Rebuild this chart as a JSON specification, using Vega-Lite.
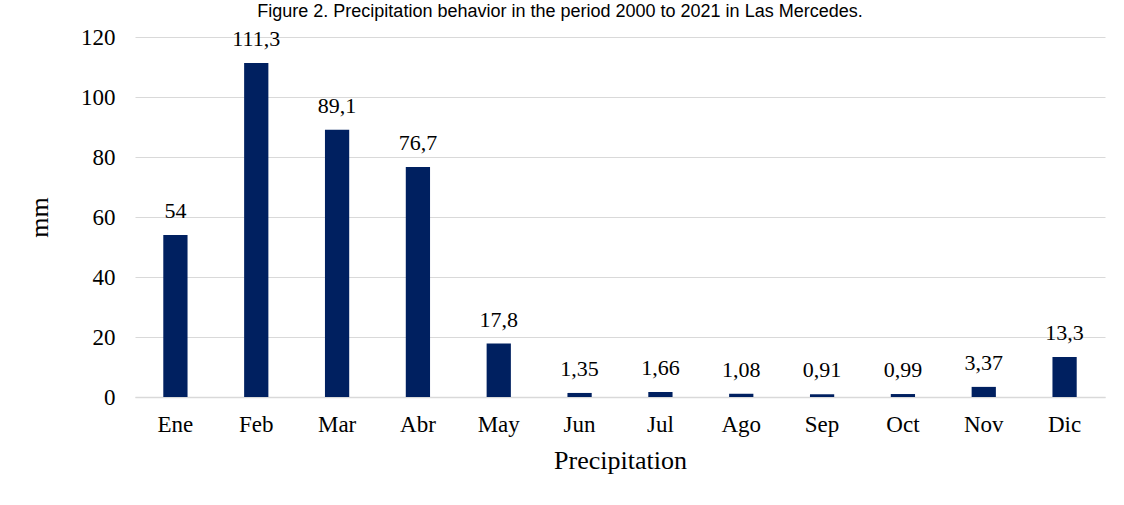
{
  "$schema": "https://vega.github.io/schema/vega-lite/v6.json",
  "width": 970,
  "height": 360,
  "autosize": {"type": "none"},
  "padding": {"left": 135, "top": 37, "right": 19, "bottom": 108},
  "background": "white",
  "config": {
    "view": {"stroke": null},
    "locale": {"number": {"decimal": ",", "thousands": ".", "grouping": [3], "currency": ["", ""]}},
    "font": "Liberation Serif"
  },
  "title": {
    "text": "Figure 2. Precipitation behavior in the period 2000 to 2021 in Las Mercedes.",
    "font": "Liberation Sans",
    "fontSize": 18,
    "fontWeight": "normal",
    "color": "#000000",
    "anchor": "middle",
    "dx": -60,
    "offset": 5
  },
  "data": {
    "values": [
      {"mes": "Ene", "mm": 54},
      {"mes": "Feb", "mm": 111.3},
      {"mes": "Mar", "mm": 89.1},
      {"mes": "Abr", "mm": 76.7},
      {"mes": "May", "mm": 17.8},
      {"mes": "Jun", "mm": 1.35},
      {"mes": "Jul", "mm": 1.66},
      {"mes": "Ago", "mm": 1.08},
      {"mes": "Sep", "mm": 0.91},
      {"mes": "Oct", "mm": 0.99},
      {"mes": "Nov", "mm": 3.37},
      {"mes": "Dic", "mm": 13.3}
    ]
  },
  "encoding": {
    "x": {
      "field": "mes",
      "type": "nominal",
      "sort": null,
      "scale": {"paddingInner": 0.7, "paddingOuter": 0.35},
      "axis": {
        "title": "Precipitation",
        "titleFont": "Liberation Serif",
        "titleFontSize": 26,
        "titleFontWeight": "normal",
        "titleColor": "#000000",
        "titlePadding": 11,
        "labelFont": "Liberation Serif",
        "labelFontSize": 23,
        "labelColor": "#000000",
        "labelAngle": 0,
        "labelPadding": 16,
        "ticks": false,
        "domainColor": "#d9d9d9",
        "domainWidth": 1.5
      }
    },
    "y": {
      "field": "mm",
      "type": "quantitative",
      "scale": {"domain": [0, 120], "nice": false},
      "axis": {
        "title": "mm",
        "titleFont": "Liberation Serif",
        "titleFontSize": 26,
        "titleFontWeight": "normal",
        "titleColor": "#000000",
        "titlePadding": 28,
        "values": [0, 20, 40, 60, 80, 100, 120],
        "labelFont": "Liberation Serif",
        "labelFontSize": 23,
        "labelColor": "#000000",
        "labelPadding": 20,
        "ticks": false,
        "domain": false,
        "gridColor": "#d9d9d9",
        "gridWidth": 1
      }
    }
  },
  "layer": [
    {"mark": {"type": "bar", "color": "#002060"}},
    {
      "mark": {"type": "text", "dy": -24, "fontSize": 22, "font": "Liberation Serif", "color": "#000000"},
      "encoding": {"text": {"field": "mm", "type": "quantitative", "format": ".4~g"}}
    }
  ]
}
